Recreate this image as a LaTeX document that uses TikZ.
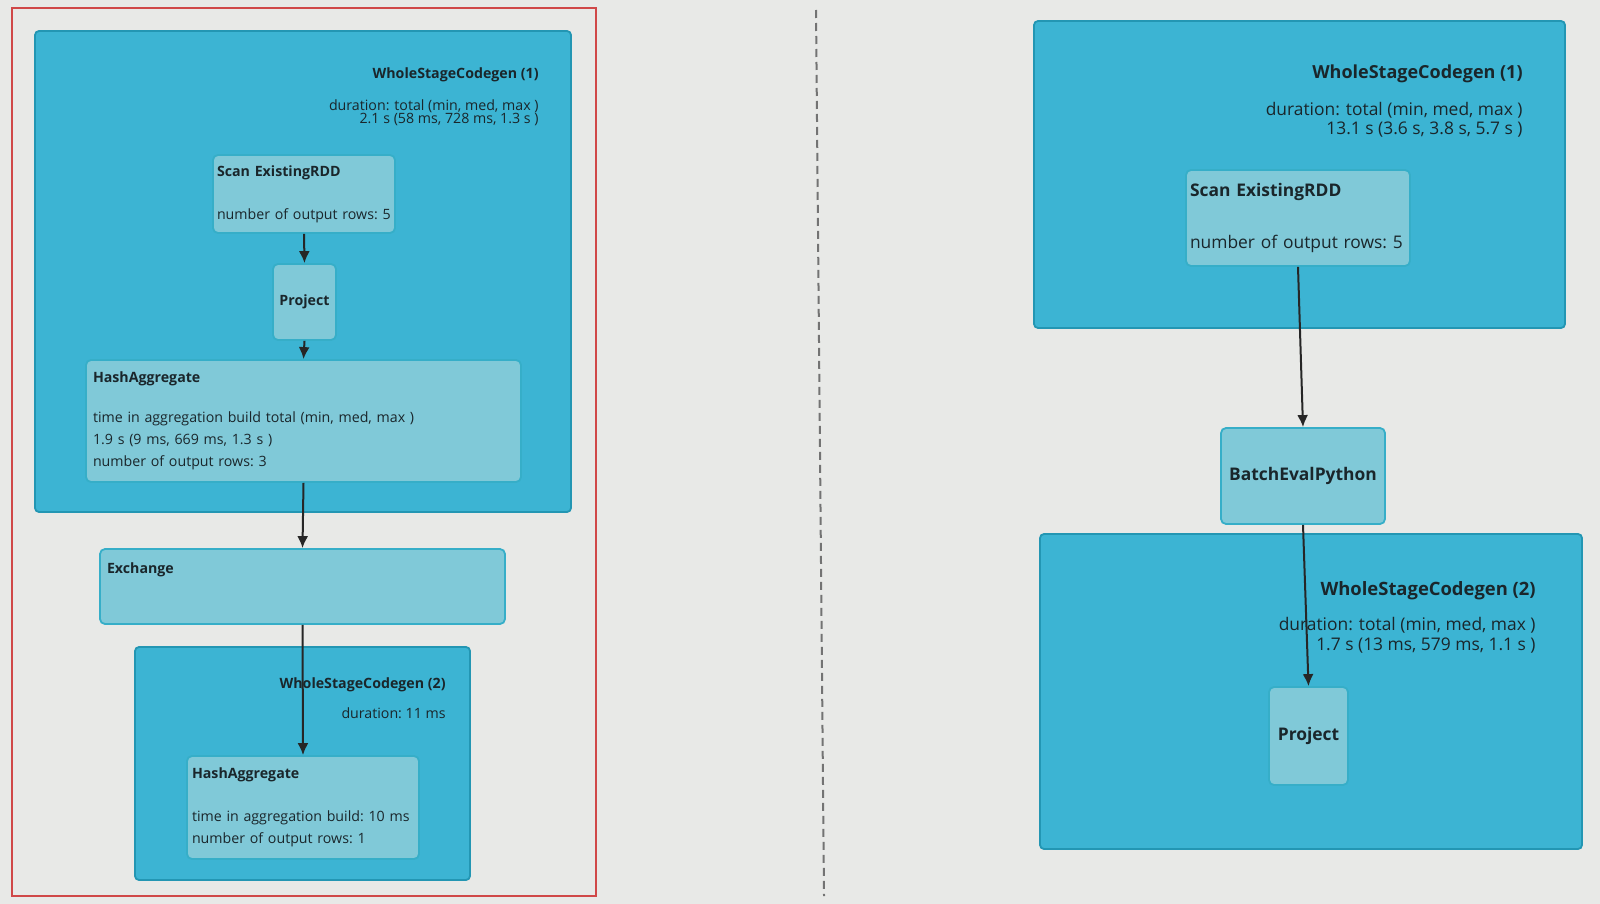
\documentclass[tikz,border=0pt]{standalone}
\usepackage{fontspec}
\setmainfont{Open Sans}
\usetikzlibrary{arrows.meta,positioning}
\definecolor{screen}{HTML}{E8E9E7}
\definecolor{stagefill}{HTML}{3CB4D3}
\definecolor{stageline}{HTML}{2396B3}
\definecolor{opfill}{HTML}{80C9D8}
\definecolor{opline}{HTML}{36AEC8}
\definecolor{framered}{HTML}{D04848}
\definecolor{ink}{HTML}{1A262B}

\tikzset{
  stagebox/.style={draw=stageline, fill=stagefill, line width=0.9pt, rounded corners=2pt, inner sep=0pt},
  opbox/.style={draw=opline, fill=opfill, line width=0.9pt, rounded corners=2.5pt, inner ysep=0pt, text=ink},
  lefttext/.style={font=\fontsize{7.1}{11}\selectfont\frenchspacing},
  righttext/.style={font=\fontsize{8.7}{13.5}\selectfont\frenchspacing},
  stagetitle/.style={inner sep=0pt, align=right, text=ink, anchor=north east},
  flow/.style={-{Latex[length=6pt,width=5.5pt]}, line width=1pt, black!85}
}

\begin{document}
\begin{tikzpicture}[x=0.5pt, y=-0.5pt]
\fill[screen] (0,0) rectangle (1600,904);
\useasboundingbox (0,0) rectangle (1600,904);

% left plan
\node[draw=framered, line width=0.6pt, inner sep=0pt, minimum width=292pt, minimum height=444pt] (frameL) at (304,452) {};
\draw[dashed, dash pattern=on 4pt off 2.5pt, line width=1pt, black!55] (816,10) -- (824,896);

\node[stagebox, minimum width=268pt, minimum height=240.5pt] (wscA) at (303,271.5) {};
\node[stagebox, minimum width=167.5pt, minimum height=116.5pt] (wscB) at (302.5,763.5) {};

\node[opbox, lefttext, inner xsep=2pt, text width=87pt, align=left, minimum height=39pt] (scanA) at (304,194)
  {\textbf{Scan ExistingRDD}\\[10.5pt]number of output rows: 5};
\node[opbox, lefttext, inner xsep=0pt, minimum width=31.5pt, minimum height=38pt, align=center] (projA) at (304.5,302)
  {\textbf{Project}};
\node[opbox, lefttext, inner xsep=3.5pt, text width=210.5pt, align=left, minimum height=61pt] (hashA) at (303.5,421)
  {\textbf{HashAggregate}\\[9pt]time in aggregation build total (min, med, max )\\1.9 s (9 ms, 669 ms, 1.3 s )\\number of output rows: 3};
\node[opbox, lefttext, inner xsep=3.5pt, text width=195.5pt, align=left, minimum height=37.5pt] (exch) at (302.5,586.5)
  {\textbf{Exchange}\\[7pt]\mbox{}};
\node[opbox, lefttext, inner xsep=2.5pt, text width=111pt, align=left, minimum height=51.5pt] (hashB) at (303,807.5)
  {\textbf{HashAggregate}\\[10.5pt]time in aggregation build: 10 ms\\number of output rows: 1};

\node[stagetitle, lefttext] (titleA) at (539,67) {\textbf{WholeStageCodegen (1)}};
\node[stagetitle, font=\fontsize{7.1}{6.6}\selectfont] (durA) at (539,99)
  {\lineskiplimit=-5pt\relax duration: total (min, med, max )\\2.1 s (58 ms, 728 ms, 1.3 s )};
\node[stagetitle, lefttext] (titleB) at (446,677) {\textbf{WholeStageCodegen (2)}};
\node[stagetitle, lefttext] (durB) at (446,707) {duration: 11 ms};

% right plan
\node[stagebox, minimum width=265.5pt, minimum height=153.5pt] (wscC) at (1299.5,174.5) {};
\node[stagebox, minimum width=271pt, minimum height=157.5pt] (wscD) at (1311,691.5) {};

\node[opbox, righttext, inner xsep=2pt, text width=108pt, align=left, minimum height=48pt] (scanC) at (1298,218)
  {\textbf{Scan ExistingRDD}\\[12.5pt]number of output rows: 5};
\node[opbox, righttext, inner xsep=0pt, minimum width=82pt, minimum height=48pt, align=center] (batch) at (1303,476)
  {\textbf{BatchEvalPython}};
\node[opbox, righttext, inner xsep=0pt, minimum width=39.5pt, minimum height=49pt, align=center] (projD) at (1308.5,736)
  {\textbf{Project}};

\node[stagetitle, font=\fontsize{9}{13.5}\selectfont] (titleC) at (1523,64) {\textbf{WholeStageCodegen (1)}};
\node[stagetitle, font=\fontsize{8.7}{9.2}\selectfont] (durC) at (1523,102)
  {\lineskiplimit=-5pt\relax duration: total (min, med, max )\\13.1 s (3.6 s, 3.8 s, 5.7 s )};
\node[stagetitle, font=\fontsize{9.2}{13.5}\selectfont] (titleD) at (1536,581) {\textbf{WholeStageCodegen (2)}};
\node[stagetitle, font=\fontsize{8.7}{9.7}\selectfont] (durD) at (1536,617)
  {\lineskiplimit=-5pt\relax duration: total (min, med, max )\\1.7 s (13 ms, 579 ms, 1.1 s )};

% edges
\draw[flow] (scanA.south) -- (projA.north);
\draw[flow] (projA.south) -- (hashA.north);
\draw[flow] (hashA.south) -- (exch.north);
\draw[flow] (exch.south) -- (hashB.north);
\draw[flow] (scanC.south) -- (batch.north);
\draw[flow] (batch.south) -- (projD.north);
\end{tikzpicture}
\end{document}
